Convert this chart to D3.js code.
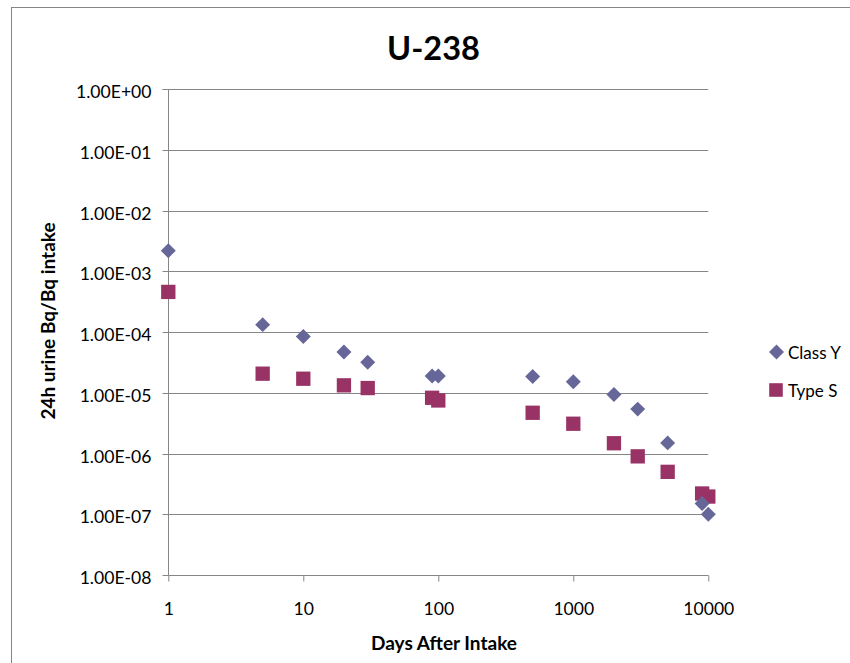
<!DOCTYPE html>
<html>
<head>
<meta charset="utf-8">
<script src="https://cdn.jsdelivr.net/npm/d3@7"></script>
<style>
  html, body { margin: 0; padding: 0; background: #fff; }
  svg { display: block; }
  text { font-family: Lato, "Open Sans", sans-serif; fill: #000; }
</style>
</head>
<body>
<div id="chart"></div>
<script>
// ---- data ----
const title = "U-238";
const xLabel = "Days After Intake";
const yLabel = "24h urine Bq/Bq intake";
const seriesNames = ["Class Y", "Type S"];
const classYDays = [1, 5, 10, 20, 30, 90, 100, 500, 1000, 2000, 3000, 5000, 9000, 10000];
const classYValues = [2.2e-3, 1.33e-4, 8.5e-5, 4.7e-5, 3.2e-5, 1.9e-5, 1.9e-5, 1.86e-5, 1.53e-5, 9.4e-6, 5.4e-6, 1.5e-6, 1.5e-7, 1.0e-7];
const typeSDays = [1, 5, 10, 20, 30, 90, 100, 500, 1000, 2000, 3000, 5000, 9000, 10000];
const typeSValues = [4.6e-4, 2.07e-5, 1.71e-5, 1.33e-5, 1.2e-5, 8.3e-6, 7.5e-6, 4.7e-6, 3.1e-6, 1.48e-6, 9.0e-7, 5.0e-7, 2.2e-7, 1.96e-7];
const xTicks = [1, 10, 100, 1000, 10000];
const xTickLabels = ["1", "10", "100", "1000", "10000"];
const yTicks = [1, 1e-1, 1e-2, 1e-3, 1e-4, 1e-5, 1e-6, 1e-7, 1e-8];
const yTickLabels = ["1.00E+00", "1.00E-01", "1.00E-02", "1.00E-03", "1.00E-04", "1.00E-05", "1.00E-06", "1.00E-07", "1.00E-08"];

// ---- layout ----
const W = 850, H = 663;
const plot = { left: 168.3, right: 708.3, top: 89.3, bottom: 575 };
const colors = ["#666699", "#993366"];
const grid = "#868686";

const svg = d3.select("#chart").append("svg").attr("width", W).attr("height", H);

// chart border (left & top visible)
svg.append("rect").attr("x", 11.5).attr("y", 7.5).attr("width", W + 20).attr("height", H + 20)
  .attr("fill", "none").attr("stroke", grid).attr("stroke-width", 1);

const x = d3.scaleLog().domain([1, 10000]).range([plot.left, plot.right]);
const y = d3.scaleLog().domain([1e-8, 1]).range([plot.bottom, plot.top]);

// gridlines
svg.append("g").selectAll("line").data(yTicks.filter(v => v !== 1e-8)).join("line")
  .attr("x1", plot.left).attr("x2", plot.right)
  .attr("y1", d => Math.round(y(d)) + 0.5).attr("y2", d => Math.round(y(d)) + 0.5)
  .attr("stroke", grid).attr("stroke-width", 1);

// y axis
const yAxis = d3.axisLeft(y).tickValues(yTicks)
  .tickFormat((d, i) => yTickLabels[i]).tickSize(6).tickPadding(11);
const gy = svg.append("g").attr("transform", `translate(${Math.round(plot.left) + 0.5},0)`).call(yAxis);
gy.select(".domain").attr("stroke", grid).attr("d", `M-6,${Math.round(plot.top)+0.5}H0V${Math.round(plot.bottom)+0.5}`);
gy.selectAll(".tick line").attr("stroke", grid);
gy.selectAll(".tick").attr("transform", d => `translate(0,${Math.round(y(d)) + 0.5})`);
gy.selectAll(".tick text").attr("font-family", "Lato").attr("font-size", 17.6).attr("dy", "0.32em").attr("y", 3);

// x axis
const xAxis = d3.axisBottom(x).tickValues(xTicks)
  .tickFormat((d, i) => xTickLabels[i]).tickSize(6).tickPadding(21);
const gx = svg.append("g").attr("transform", `translate(0,${Math.round(plot.bottom) + 0.5})`).call(xAxis);
gx.select(".domain").attr("stroke", grid).attr("d", `M${Math.round(plot.left)+0.5},0H${Math.round(plot.right)+0.5}`);
gx.selectAll(".tick line").attr("stroke", grid);
gx.selectAll(".tick text").attr("font-family", "Lato").attr("font-size", 17.6);

// series
const diamond = d3.symbol().type(d3.symbolSquare).size(112);
const square = d3.symbol().type(d3.symbolSquare).size(205);

const typeS = typeSDays.map((d, i) => ({ d, v: typeSValues[i] }));
const classY = classYDays.map((d, i) => ({ d, v: classYValues[i] }));

svg.append("g").selectAll("path").data(typeS).join("path")
  .attr("d", square)
  .attr("transform", p => `translate(${x(p.d)},${y(p.v)})`)
  .attr("fill", colors[1]);

svg.append("g").selectAll("path").data(classY).join("path")
  .attr("d", diamond)
  .attr("transform", p => `translate(${x(p.d)},${y(p.v)}) rotate(45)`)
  .attr("fill", colors[0]);

// title
svg.append("text").attr("x", 433.5).attr("y", 60).attr("text-anchor", "middle")
  .attr("font-weight", "bold").attr("font-size", 32.5).text(title);

// axis titles
svg.append("text").attr("x", 444).attr("y", 649.5).attr("text-anchor", "middle")
  .attr("font-weight", "bold").attr("font-size", 19).text(xLabel);
svg.append("text").attr("transform", "translate(55,321) rotate(-90)").attr("text-anchor", "middle")
  .attr("font-weight", "bold").attr("font-size", 19).text(yLabel);

// legend
const legend = svg.append("g");
const legendY = [352, 390];
legend.append("path").attr("d", diamond).attr("transform", `translate(776.5,${legendY[0]}) rotate(45)`).attr("fill", colors[0]);
legend.append("path").attr("d", d3.symbol().type(d3.symbolSquare).size(185)).attr("transform", `translate(776,${legendY[1]})`).attr("fill", colors[1]);
legend.selectAll("text").data(seriesNames).join("text")
  .attr("x", 788).attr("y", (d, i) => legendY[i] + 6.5)
  .attr("font-size", 17).text(d => d);
</script>
</body>
</html>
